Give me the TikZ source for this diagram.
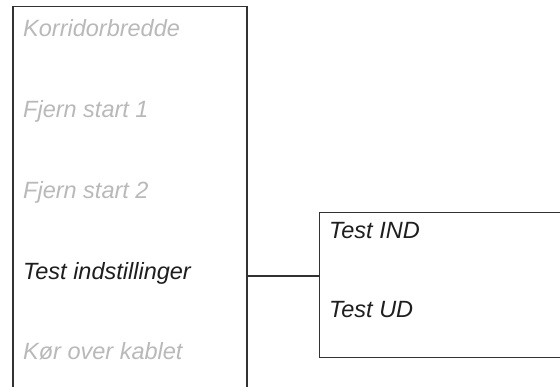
\documentclass[tikz,border=0pt]{standalone}
\usepackage{fontspec}
\setmainfont{Liberation Sans}
\usetikzlibrary{positioning}
\definecolor{menugrey}{RGB}{185,185,185}
\definecolor{menuline}{RGB}{50,50,50}
\definecolor{menutext}{RGB}{30,30,30}

\begin{document}
\begin{tikzpicture}[x=1pt,y=-1pt]
  \tikzstyle{panel}=[draw=menuline,line width=1.5pt,fill=white,inner sep=0pt,anchor=north west]
  \tikzstyle{off}=[anchor=base west,inner sep=0pt,text=menugrey,font=\fontsize{23.5}{27}\selectfont\itshape]
  \tikzstyle{on}=[anchor=base west,inner sep=0pt,text=menutext,font=\fontsize{23.5}{27}\selectfont\itshape]
  \tikzstyle{link}=[draw=menuline,line width=1.5pt]

  \useasboundingbox (0,0) rectangle (560,387);
  \clip (0,0) rectangle (560,387);

  \node[panel,minimum width=234pt,minimum height=400pt] (menu) at (12,6) {};
  \node[panel,minimum width=260pt,minimum height=145pt] (sub) at (318.5,212) {};

  \node[off] (m1) at (23,37)  {Korridorbredde};
  \node[off] (m2) at (23,118) {Fjern start 1};
  \node[off] (m3) at (23,199) {Fjern start 2};
  \node[on]  (m4) at (23,280) {Test indstillinger};
  \node[off] (m5) at (23,360) {Kør over kablet};

  \node[on] (s1) at (329,239) {Test IND};
  \node[on] (s2) at (329,318) {Test UD};

  \coordinate (j) at (282,276);
  \draw[link] (j -| menu.east) -- (j -| sub.west);
\end{tikzpicture}
\end{document}
